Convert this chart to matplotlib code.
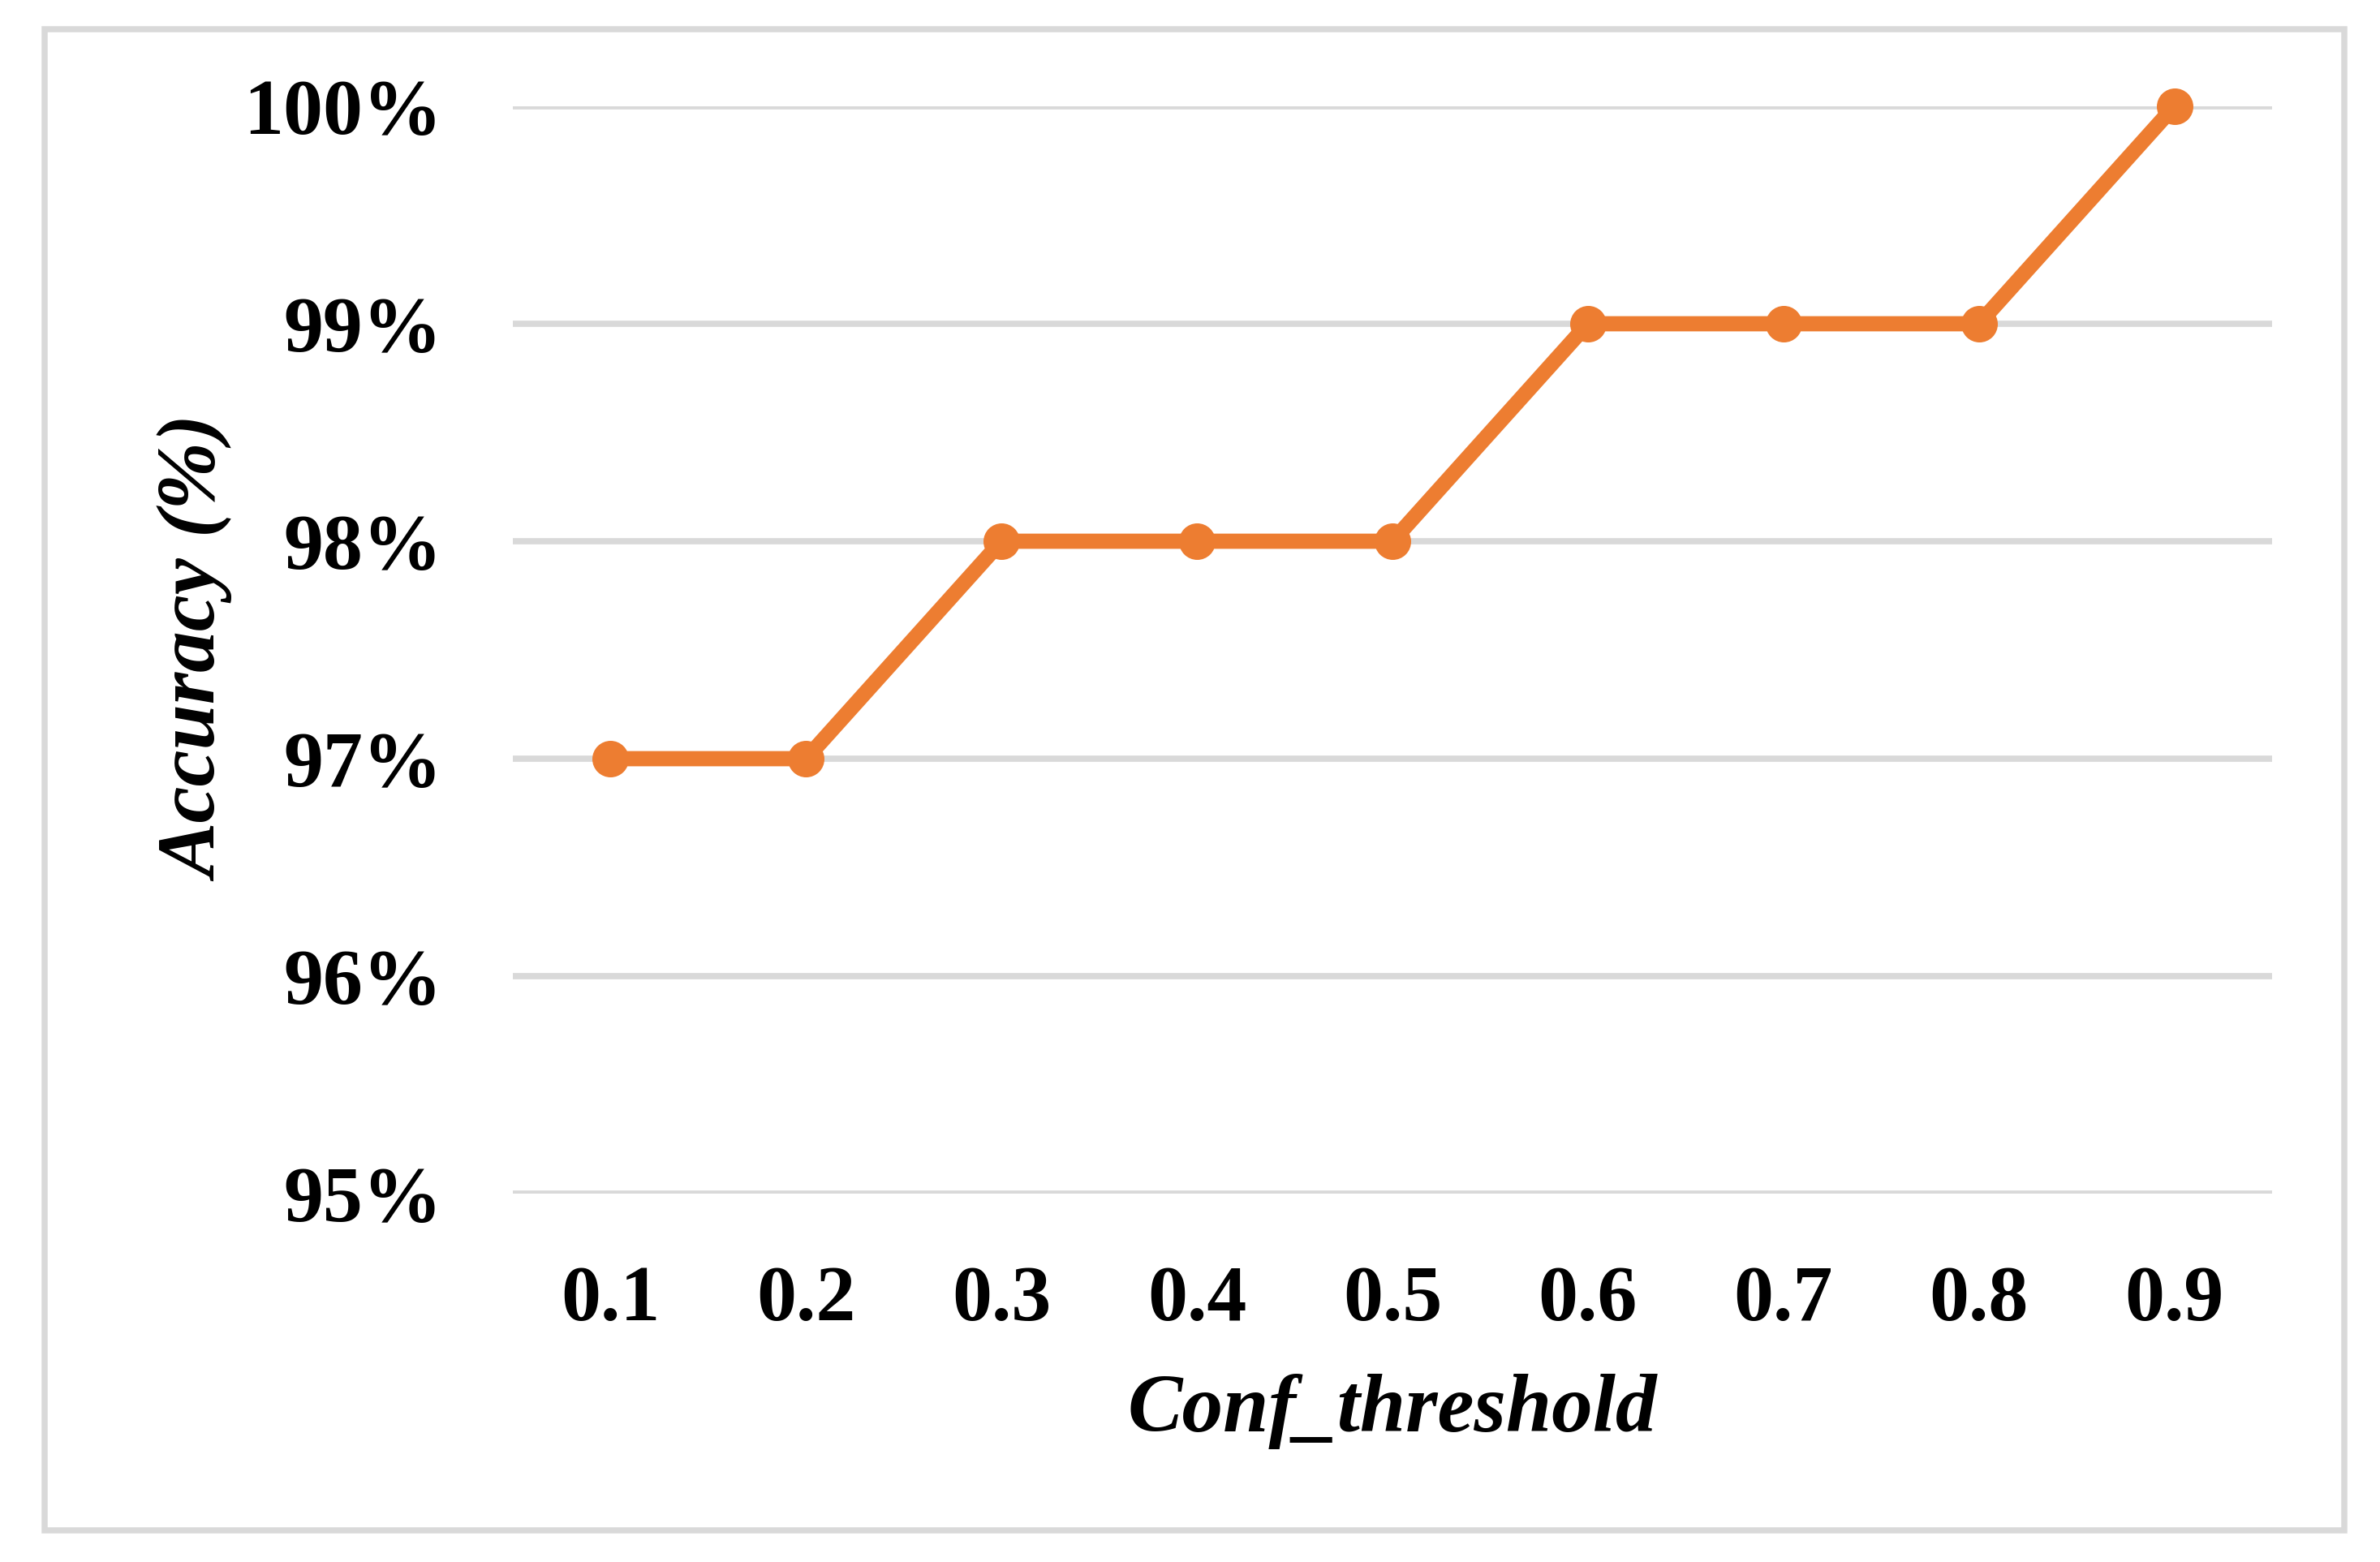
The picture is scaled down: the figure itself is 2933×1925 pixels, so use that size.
import matplotlib
matplotlib.use("Agg")
import matplotlib.pyplot as plt
from matplotlib.patches import Rectangle

# ---------------------------------------------------------------------------
# Data
# ---------------------------------------------------------------------------
thresholds = ["0.1", "0.2", "0.3", "0.4", "0.5", "0.6", "0.7", "0.8", "0.9"]
accuracy = [97, 97, 98, 98, 98, 99, 99, 99, 100]   # percent
y_ticks = [95, 96, 97, 98, 99, 100]

LINE_COLOR = "#ED7D31"
GRID_COLOR = "#D9D9D9"
FONT = ["Liberation Serif", "DejaVu Serif"]

plt.rcParams["font.family"] = FONT

W, H, DPI = 2933, 1925, 300
fig = plt.figure(figsize=(W / DPI, H / DPI), dpi=DPI)
fig.patch.set_facecolor("white")

# outer chart frame (Excel-like)
fig.patches.append(Rectangle((55 / W, 1 - 1886 / H), (2889 - 55) / W, (1886 - 36) / H,
                             transform=fig.transFigure, fill=False,
                             edgecolor=GRID_COLOR, linewidth=1.8))

left, right, top, bottom = 632, 2800, 131, 1471
ax = fig.add_axes([left / W, 1 - bottom / H, (right - left) / W, (bottom - top) / H])

x = list(range(len(thresholds)))
ax.plot(x, accuracy, color=LINE_COLOR, linewidth=4.5, marker="o",
        markersize=9.8, solid_capstyle="butt", clip_on=False, zorder=3)

ax.set_xlim(-0.5, len(thresholds) - 0.5)
ax.set_ylim(y_ticks[0], y_ticks[-1])
ax.set_yticks(y_ticks)
ax.set_yticklabels([f"{v}%" for v in y_ticks])
ax.set_xticks(x)
ax.set_xticklabels(thresholds)

ax.grid(axis="y", color=GRID_COLOR, linewidth=1.85, zorder=0)
ax.set_axisbelow(True)
for s in ax.spines.values():
    s.set_visible(False)

ax.tick_params(axis="both", length=0, labelsize=23.5)
ax.tick_params(axis="y", pad=21)
ax.tick_params(axis="x", pad=21)
for lbl in ax.get_xticklabels() + ax.get_yticklabels():
    lbl.set_fontweight("bold")

ax.set_xlabel("Conf_threshold", fontsize=24.3, fontweight="bold",
              fontstyle="italic", labelpad=11)
ax.set_ylabel("Accuracy (%)", fontsize=24.3, fontweight="bold",
              fontstyle="italic", labelpad=2)

fig.savefig("out.png", dpi=DPI, facecolor="white")
